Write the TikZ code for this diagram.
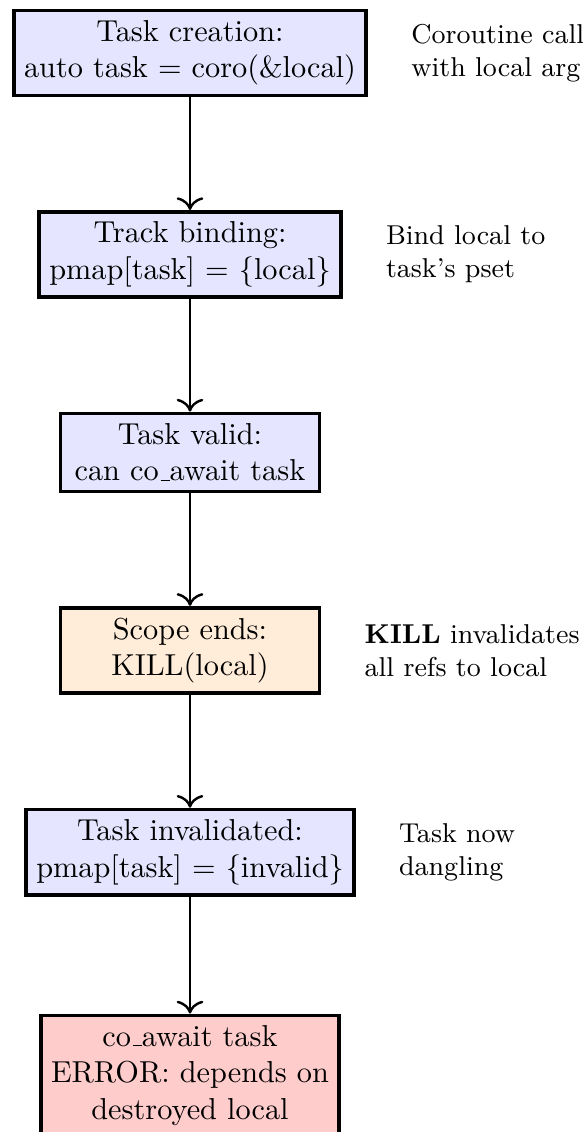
\documentclass[tikz,border=0pt]{standalone}
\usetikzlibrary{positioning,arrows.meta}
% baseline-level underscore, as in the classic OT1 rendering
\newcommand{\uscore}{\leavevmode\kern.06em\vbox{\hrule width.3em}}
\begin{document}
\begin{tikzpicture}[x=0.33pt,y=-0.33pt,
  stage/.style={draw, very thick, fill=blue!10, minimum width=3cm, align=center},
  killstage/.style={stage, fill=orange!15},
  errstage/.style={stage, fill=red!20},
  note/.style={font=\small, align=left},
  flow/.style={-{To[scale=1.25]}, thick},
  node distance=37.2pt]
\useasboundingbox (0,0) rectangle (583,1132);
\clip (0,0) rectangle (583,1132);

% pipeline stages
\node[stage, anchor=north] (create) at (190,8.5) {Task creation:\\auto task = coro(\&local)};
\node[stage, below=of create] (bind) {Track binding:\\pmap[task] = \{local\}};
\node[stage, below=of bind] (valid) {Task valid:\\can co\uscore await task};
\node[killstage, below=of valid] (kill) {Scope ends:\\KILL(local)};
\node[stage, below=of kill] (inval) {Task invalidated:\\pmap[task] = \{invalid\}};
\node[errstage, below=38.6pt of inval] (err) {co\uscore await task\\ERROR: depends on\\destroyed local};

% side annotations
\node[note, right=10.8pt of create] (ncreate) {Coroutine call\\with local arg};
\node[note, right=10.8pt of bind] (nbind) {Bind local to\\task's pset};
\node[note, right=10.8pt of kill] (nkill) {\textbf{KILL} invalidates\\all refs to local};
\node[note, right=10.8pt of inval] (ninval) {Task now\\dangling};

% control flow
\draw[flow] (create) -- (bind);
\draw[flow] (bind) -- (valid);
\draw[flow] (valid) -- (kill);
\draw[flow] (kill) -- (inval);
\draw[flow] (inval) -- (err);
\end{tikzpicture}
\end{document}
